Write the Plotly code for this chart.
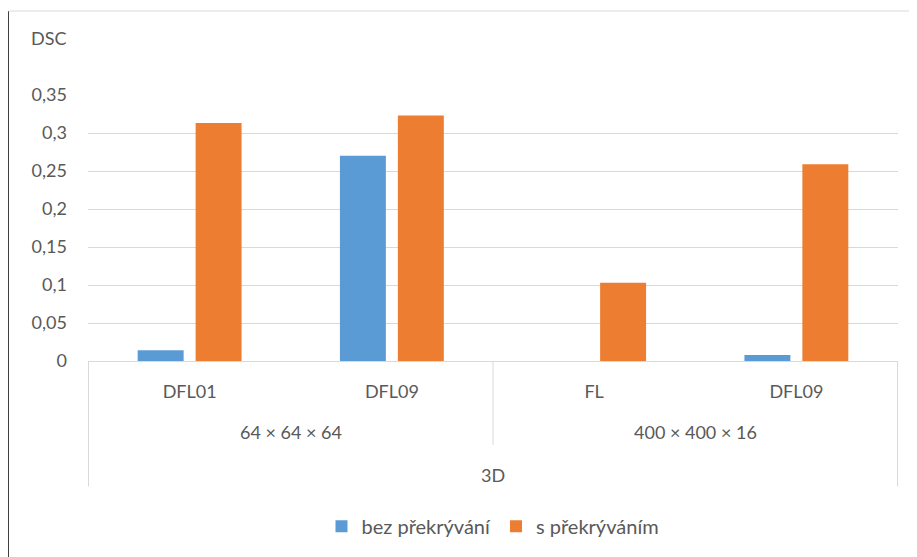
import plotly.graph_objects as go

# ---- data ----
dims = ["3D", "3D", "3D", "3D"]
resolutions = ["64 × 64 × 64", "64 × 64 × 64", "400 × 400 × 16", "400 × 400 × 16"]
methods = ["DFL01", "DFL09", "FL", "DFL09"]
bez_prekryvani = [0.014, 0.270, 0.0, 0.008]
s_prekryvanim = [0.313, 0.323, 0.103, 0.259]
series_names = ["bez překrývání", "s překrýváním"]
y_ticks = [0, 0.05, 0.1, 0.15, 0.2, 0.25, 0.3, 0.35]

# ---- layout constants (page pixels; the page body adds an 8px offset) ----
OFF = 8
PAGE_W, PAGE_H = 917, 557
W, H = PAGE_W - OFF, PAGE_H - OFF
PLOT_L, PLOT_R, PLOT_T, PLOT_B = 88, 898, 95, 362.7
ML = PLOT_L - OFF
MT = PLOT_T - OFF
MR = PAGE_W - PLOT_R
MB = PAGE_H - PLOT_B
PLOT_W = PLOT_R - PLOT_L
PLOT_H = PLOT_B - PLOT_T

def px_x(px):
    return (px - PLOT_L) / PLOT_W

def px_y(py):
    return (PLOT_B - py) / PLOT_H

FONT = "Lato"
TXT = "#595959"
GRID = "#d9d9d9"
BLUE = "#5B9BD5"
ORANGE = "#ED7D31"

keys = [f"{r}|{m}" for r, m in zip(resolutions, methods)]

fig = go.Figure()
fig.add_trace(go.Bar(x=keys, y=bez_prekryvani, name=series_names[0],
                     marker=dict(color=BLUE, line=dict(width=0))))
fig.add_trace(go.Bar(x=keys, y=s_prekryvanim, name=series_names[1],
                     marker=dict(color=ORANGE, line=dict(width=0))))

annotations = []
shapes = []

def groups(labels):
    out = []
    start = 0
    for i in range(1, len(labels) + 1):
        if i == len(labels) or labels[i] != labels[start]:
            out.append((labels[start], start, i - 1))
            start = i
    return out

for lab, a, b in groups(resolutions):
    annotations.append(dict(x=(a + b) / 2, y=px_y(434), xref="x", yref="paper",
                            text=lab, showarrow=False, xanchor="center", yanchor="middle",
                            font=dict(family=FONT, size=18, color=TXT)))
for lab, a, b in groups(dims):
    annotations.append(dict(x=(a + b) / 2, y=px_y(477), xref="x", yref="paper",
                            text=lab, showarrow=False, xanchor="center", yanchor="middle",
                            font=dict(family=FONT, size=18, color=TXT)))

# divider lines
for idx, (lab, a, b) in enumerate(groups(resolutions)):
    if idx > 0:
        shapes.append(dict(type="line", xref="x", yref="paper", x0=a - 0.5, x1=a - 0.5,
                           y0=0, y1=px_y(447), line=dict(color=GRID, width=1)))
n = len(keys)
for xv in (-0.5, n - 0.5):
    shapes.append(dict(type="line", xref="x", yref="paper", x0=xv, x1=xv,
                       y0=0, y1=px_y(489), line=dict(color=GRID, width=1)))

# y-axis title
annotations.append(dict(x=px_x(29), y=px_y(38), xref="paper", yref="paper", text="DSC",
                        showarrow=False, xanchor="left", yanchor="middle",
                        font=dict(family=FONT, size=18, color=TXT)))

# outer frame (left & top)
shapes.append(dict(type="line", xref="paper", yref="paper", x0=px_x(8.5), x1=px_x(8.5),
                   y0=px_y(10.5), y1=px_y(PAGE_H + 5), line=dict(color="#404040", width=1)))
shapes.append(dict(type="line", xref="paper", yref="paper", x0=px_x(8.5), x1=px_x(PAGE_W + 5),
                   y0=px_y(10.5), y1=px_y(10.5), line=dict(color=GRID, width=1)))

fig.update_layout(
    width=W, height=H,
    margin=dict(l=ML, r=MR, t=MT, b=MB, pad=0),
    paper_bgcolor="white", plot_bgcolor="white",
    separators=", ",
    barmode="group", bargap=0.427, bargroupgap=0.207,
    font=dict(family=FONT, size=18, color=TXT),
    showlegend=True,
    legend=dict(orientation="h", x=0.5, xanchor="center", y=px_y(529), yanchor="middle",
                font=dict(family=FONT, size=20, color=TXT), traceorder="normal",
                itemwidth=30),
    annotations=annotations,
    shapes=shapes,
)
fig.update_xaxes(type="category", tickvals=keys, ticktext=methods, showgrid=False,
                 showline=False, zeroline=False, ticks="", ticklabelstandoff=18,
                 tickfont=dict(family=FONT, size=18, color=TXT), fixedrange=True)
fig.update_yaxes(range=[0, 0.35], tickvals=y_ticks, showgrid=True, gridcolor=GRID,
                 gridwidth=1, zeroline=True, zerolinecolor=GRID, zerolinewidth=1,
                 showline=False, ticks="", ticklabelstandoff=20,
                 tickfont=dict(family=FONT, size=18, color=TXT), fixedrange=True)

fig.write_html("out.html")
